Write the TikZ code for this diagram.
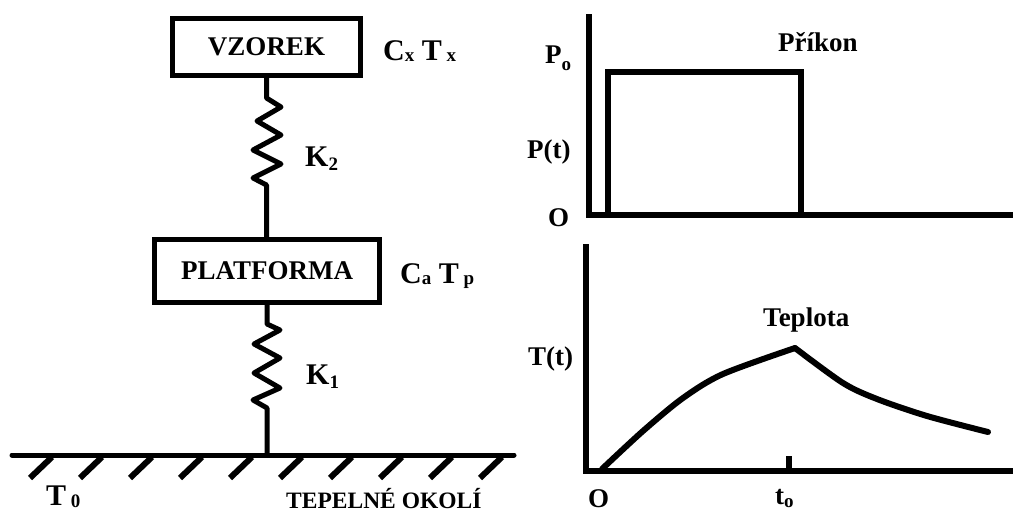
\documentclass[tikz,border=0pt]{standalone}
\usepackage{fontspec}
\setmainfont{Liberation Serif}
\newcommand{\lowtext}[2]{\raisebox{-#1pt}{\fontsize{19}{19}\selectfont #2}}
\tikzset{
  wire/.style={line width=5pt,line join=round},
  thickwire/.style={line width=6pt,line join=round,line cap=round},
  axisline/.style={line width=6pt},
  boxnode/.style={draw,line width=5pt,inner sep=0,font=\bfseries\fontsize{27}{27}\selectfont},
  lbl/.style={anchor=base west,inner sep=0,font=\bfseries\fontsize{27}{27}\selectfont},
  biglbl/.style={anchor=base west,inner sep=0,font=\bfseries\fontsize{30}{30}\selectfont},
  smalllbl/.style={anchor=base west,inner sep=0,font=\bfseries\fontsize{23.5}{23.5}\selectfont}
}
\begin{document}
\begin{tikzpicture}[x=1pt,y=-1pt]
\useasboundingbox (0,0) rectangle (1013,512);
% left part
\node[boxnode,minimum width=188pt,minimum height=57pt] (vzorek) at (266.5,47) {\raisebox{-1pt}{VZOREK}};
\node[boxnode,minimum width=225pt,minimum height=63pt] (platforma) at (267,271) {PLATFORMA};
\coordinate (grleft) at (12,455);
\coordinate (grright) at (514,455);
\coordinate (grmid) at (267,455);
\draw[wire] (vzorek.south) -- (266.5,98) -- (281,107) -- (257,121) -- (281,135) -- (253,150) -- (281,164) -- (253,178) -- (266.5,185) -- (platforma.north -| 266.5,0);
\draw[wire] (platforma.south) -- (267,324) -- (280,330) -- (254,344) -- (280,358) -- (254,373) -- (280,388) -- (253,400) -- (267,408) -- (grmid);
\draw[wire,line cap=round] (grleft) -- (grright);
\foreach \i in {0,...,9}
  \draw[thickwire,line cap=butt] (52+50*\i,457) -- (30+50*\i,478);
\node[biglbl] (cx) at (383,60) {C\lowtext{1.5}{x} T\lowtext{1.5}{ x}};
\node[biglbl] (ca) at (400,283) {C\lowtext{1.5}{a} T\lowtext{1.5}{ p}};
\node[biglbl] (k2) at (305,166) {K\lowtext{4}{2}};
\node[biglbl] (k1) at (306,384) {K\lowtext{4}{1}};
\node[biglbl] (t0) at (46,505) {T\lowtext{2}{ 0}};
\node[smalllbl] (okoli) at (286,508) {TEPELNÉ OKOLÍ};
% upper graph
\coordinate (ptop) at (589,14);
\coordinate (porig) at (589,215);
\coordinate (pend) at (1013,215);
\draw[axisline,line join=miter] (ptop) -- (porig) -- (pend);
\draw[axisline] (608,215) -- (608,72) -- (801,72) -- (801,215);
\node[lbl] (po) at (545,63) {P\lowtext{7}{o}};
\node[lbl] (pt) at (527,158) {P(t)};
\node[lbl] (o1) at (548,226) {O};
\node[lbl] (prikon) at (778,51) {Příkon};
% lower graph
\coordinate (ttop) at (586,244);
\coordinate (torig) at (586,471);
\coordinate (tend) at (1013,471);
\coordinate (tpeak) at (795,348);
\draw[axisline,line join=miter] (ttop) -- (torig) -- (tend);
\draw[axisline] (789,471) -- (789,456);
\draw[thickwire] plot[smooth,tension=0.5] coordinates {(602,469) (643,431) (683,398) (723,374) (tpeak)};
\draw[thickwire] plot[smooth,tension=0.5] coordinates {(tpeak) (843,383) (877,399) (927,416) (988,432)};
\node[lbl] (tt) at (528,365) {T(t)};
\node[lbl] (teplota) at (763,326) {Teplota};
\node[lbl] (o2) at (588,507) {O};
\node[lbl] (to) at (775,504) {t\lowtext{3}{o}};
\end{tikzpicture}
\end{document}
